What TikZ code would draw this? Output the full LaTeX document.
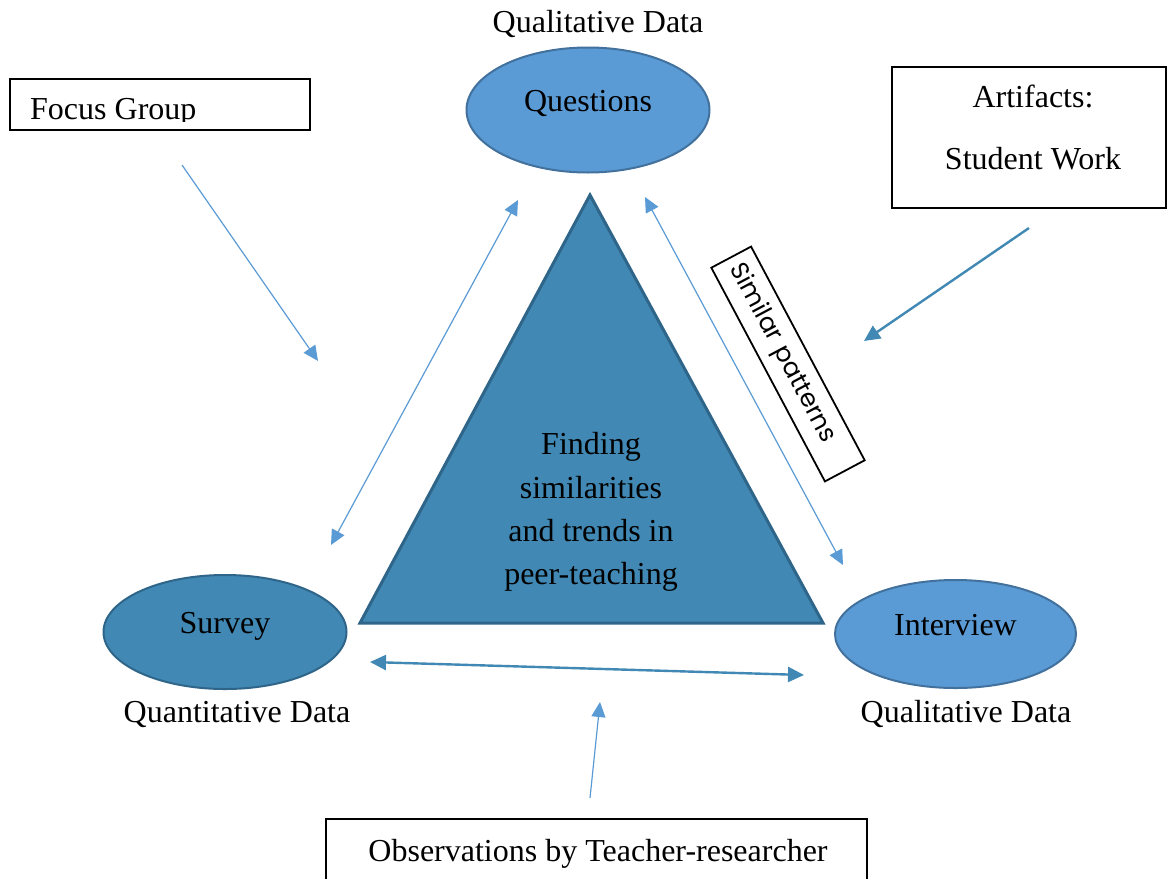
\documentclass[tikz,border=0pt]{standalone}
\usepackage{fontspec}
\setmainfont{Liberation Serif}
\newfontfamily\gothicfont{Poppins}
\usetikzlibrary{arrows.meta,shapes.geometric,calc}
\definecolor{lightblue}{HTML}{5B9BD5}
\definecolor{lightedge}{HTML}{41719C}
\definecolor{darkblue}{HTML}{4189B4}
\definecolor{darkedge}{HTML}{2E6589}
\tikzset{
  big/.style={font=\fontsize{32}{38}\selectfont},
  oval/.style={ellipse, line width=2pt, inner sep=0pt, big, text height=22pt, text depth=20pt},
  lightoval/.style={oval, fill=lightblue, draw=lightedge},
  darkoval/.style={oval, fill=darkblue, draw=darkedge},
  framebox/.style={draw=black, line width=2pt, rectangle, inner sep=0pt},
  plain/.style={big, inner sep=0pt},
  lighttip/.tip={Triangle[length=15pt,width=14pt]},
  darktip/.tip={Triangle[length=16pt,width=15pt]},
  thinarrow/.style={draw=lightblue, line width=1.2pt},
  thickarrow/.style={draw=darkblue, line width=2.4pt},
}
\begin{document}
\begin{tikzpicture}[x=1pt,y=-1pt]
\useasboundingbox (0,0) rectangle (1169,878);
\fill[white] (0,0) rectangle (1169,878);

% triangle
\filldraw[fill=darkblue, draw=darkedge, line width=3pt, line join=miter]
  (590,195) -- (823,623) -- (360,623) -- cycle;
\node[plain, align=center, font=\fontsize{32}{43.3}\selectfont] (center) at (591,512)
  {Finding\\similarities\\and trends in\\peer-teaching};

% ellipses
\node[lightoval, minimum width=243pt, minimum height=125pt] (questions) at (588,110) {Questions};
\node[darkoval, minimum width=243pt, minimum height=114pt] (survey) at (225,632) {Survey};
\node[lightoval, minimum width=241pt, minimum height=108pt] (interview) at (955.5,634) {Interview};

% data labels
\node[plain, anchor=base] (qd1) at (598,32) {Qualitative Data};
\node[plain, anchor=base] (qnd) at (237,722) {Quantitative Data};
\node[plain, anchor=base] (qd2) at (966,722) {Qualitative Data};

% boxes
\node[framebox, minimum width=300pt, minimum height=51pt] (focus) at (160,104.5) {};
\begin{scope}
  \clip (10,79) rectangle (310,121);
  \node[plain, anchor=base west] (focustext) at (30,119) {Focus Group};
\end{scope}
\node[framebox, minimum width=274pt, minimum height=141pt] (artifacts) at (1029,137.5) {};
\node[plain, anchor=base] (arttext1) at (1033,107) {Artifacts:};
\node[plain, anchor=base] (arttext2) at (1033,169) {Student Work};
\node[framebox, minimum width=541pt, minimum height=90pt] (observ) at (596,864) {};
\node[plain, anchor=base] (obstext) at (598,861) {Observations by Teacher-researcher};

% rotated label
\node[framebox, line width=1.8pt, text width=224pt, inner xsep=9pt, align=left,
      minimum height=45pt, rotate=-62,
      font=\gothicfont\fontsize{25}{28}\selectfont] (similar) at (788,364) {Similar patterns};

% connector end points
\coordinate (fgS) at (182,165);
\coordinate (fgE) at (318,361);
\coordinate (qsA) at (518,200);
\coordinate (qsB) at (331,545);
\coordinate (qiA) at (645,197);
\coordinate (qiB) at (843,565);
\coordinate (arS) at (1029,228);
\coordinate (arE) at (864,341);
\coordinate (siA) at (370,662);
\coordinate (siB) at (804,675);
\coordinate (obS) at (590,798);
\coordinate (obE) at (600,702);

% connectors
\draw[thinarrow, -lighttip] (fgS) -- (fgE);
\draw[thinarrow, lighttip-lighttip] (qsA) -- (qsB);
\draw[thinarrow, lighttip-lighttip] (qiA) -- (qiB);
\draw[thickarrow, -darktip] (arS) -- (arE);
\draw[thickarrow, darktip-darktip] (siA) -- (siB);
\draw[thinarrow, -lighttip] (obS) -- (obE);
\end{tikzpicture}
\end{document}
